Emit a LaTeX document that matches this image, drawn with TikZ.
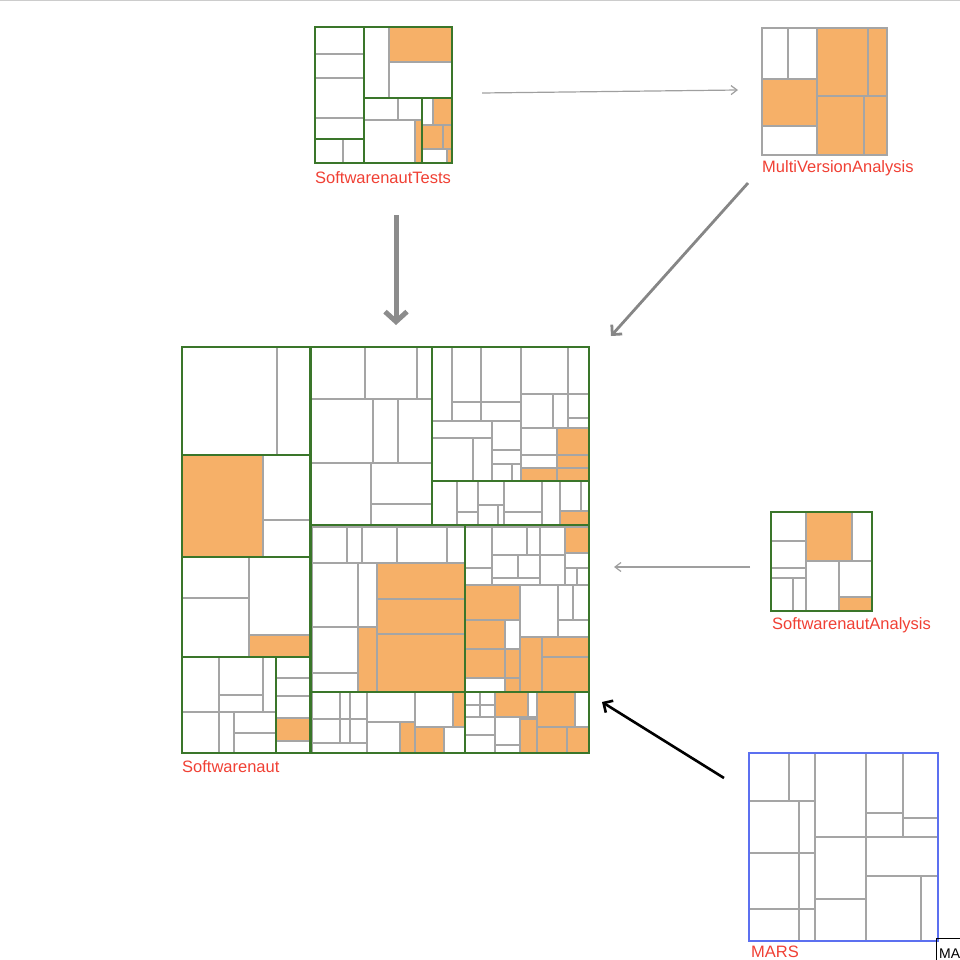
\documentclass[tikz,border=0pt]{standalone}
\usepackage{fontspec}
\setsansfont{Liberation Sans}
\definecolor{hotorange}{RGB}{246,176,104}
\definecolor{grpgreen}{RGB}{58,118,42}
\definecolor{leafgray}{RGB}{165,165,165}
\definecolor{lblred}{RGB}{240,64,52}
\definecolor{marsblue}{RGB}{92,112,240}
\usepackage{tikz}
\usetikzlibrary{arrows.meta,positioning,calc}

\begin{document}
\begin{tikzpicture}[x=1pt, y=-1pt,
    leafbox/.style={draw=leafgray, line width=1.4pt, fill=white},
    hotbox/.style={leafbox, fill=hotorange},
    grpbox/.style={draw=grpgreen, line width=2.7pt},
    lbl/.style={text=lblred, anchor=base west, inner sep=0pt,
        font=\sffamily\fontsize{16.5}{18}\selectfont},
    dep/.style={gray}]
    \useasboundingbox (0,0) rectangle (960,960);
    \clip (0,0) rectangle (960,960);
    \draw[gray!40, line width=1pt] (0,1) -- (960,1);

    % SoftwarenautTests
    \foreach \a/\b/\c/\d in {315/27/364/54, 315/54/364/78, 315/78/364/118,
        315/118/364/139, 315/139/343/163, 343/139/364/163, 364/27/389/98,
        389/62/452/98, 364/98/398/120, 398/98/422/120, 364/120/415/163,
        422/98/433/125, 422/149/447/163}
        \draw[leafbox] (\a,\b) rectangle (\c,\d);
    \foreach \a/\b/\c/\d in {389/27/452/62, 415/120/422/163, 433/98/452/125,
        422/125/443/149, 443/125/452/149, 447/149/452/163}
        \draw[hotbox] (\a,\b) rectangle (\c,\d);
    \foreach \a/\b/\c/\d in {315/27/364/139, 315/139/364/163, 364/27/452/98,
        364/98/422/163, 422/98/452/163, 315/27/452/163}
        \draw[grpbox] (\a,\b) rectangle (\c,\d);
    \node[lbl] (testslbl) at (315,183) {SoftwarenautTests};

    % MultiVersionAnalysis
    \foreach \a/\b/\c/\d in {762/28/788/79, 788/28/817/79, 762/126/817/155}
        \draw[leafbox] (\a,\b) rectangle (\c,\d);
    \foreach \a/\b/\c/\d in {762/79/817/126, 817/28/868/96, 868/28/887/96,
        817/96/864/155, 864/96/887/155}
        \draw[hotbox] (\a,\b) rectangle (\c,\d);
    \draw[leafbox, fill=none, line width=1.8pt] (762,28) rectangle (887,155);
    \node[lbl] (mvalbl) at (762,172) {MultiVersionAnalysis};

    % SoftwarenautAnalysis
    \foreach \a/\b/\c/\d in {771/512/806/541, 771/541/806/568, 771/568/806/578,
        771/578/793/611, 793/578/806/611, 852/512/872/561, 806/561/839/611,
        839/561/872/597}
        \draw[leafbox] (\a,\b) rectangle (\c,\d);
    \foreach \a/\b/\c/\d in {806/512/852/561, 839/597/872/611}
        \draw[hotbox] (\a,\b) rectangle (\c,\d);
    \draw[grpbox] (771,512) rectangle (872,611);
    \node[lbl] (analysislbl) at (772,629) {SoftwarenautAnalysis};

    % MARS
    \foreach \a/\b/\c/\d in {749/753/789/801, 789/753/815/801, 749/801/799/853,
        799/801/815/853, 749/853/799/909, 799/853/815/909, 749/909/799/941,
        799/909/815/941, 815/753/866/837, 815/837/866/899, 815/899/866/941,
        866/753/903/813, 866/813/903/837, 903/753/938/818, 903/818/938/837,
        866/837/938/876, 866/876/921/941, 921/876/938/941}
        \draw[leafbox] (\a,\b) rectangle (\c,\d);
    \draw[marsblue, line width=2.6pt] (749,753) rectangle (938,941);
    \node[lbl] (marslbl) at (751,957) {MARS};
    \node[draw=black, line width=1pt, anchor=north west, minimum width=40pt,
        minimum height=30pt] (mabox) at (936,938) {};
    \node[anchor=base west, inner sep=0pt, font=\sffamily\fontsize{14}{16}\selectfont]
        (malbl) at (939,958) {MA};

    % Softwarenaut
    \foreach \a/\b/\c/\d in {182/347/277/455, 277/347/310/455,
        263/455/310/520, 263/520/310/557,
        182/557/249/598, 182/598/249/657, 249/557/310/635,
        182/657/219/712, 219/657/263/695, 219/695/263/712, 263/657/276/712,
        182/712/219/753, 219/712/234/753, 234/712/276/733, 234/733/276/753,
        276/657/310/678, 276/678/310/696, 276/696/310/718, 276/741/310/753,
        311/347/365/399, 365/347/417/399, 417/347/432/399,
        311/399/373/463, 373/399/398/463, 398/399/432/463,
        311/463/371/525, 371/463/432/504, 371/504/432/525,
        432/347/452/421, 452/347/481/402, 481/347/521/402, 452/402/481/421,
        481/402/521/421, 432/421/492/438, 432/438/473/481, 473/438/492/481,
        492/421/521/450, 492/450/521/464, 492/464/512/481, 512/464/521/481,
        521/347/568/394, 568/347/589/394, 521/394/553/428, 553/394/568/428,
        568/394/589/418, 568/418/589/428, 521/428/557/455, 521/455/557/468,
        432/481/457/525, 457/481/478/512, 457/512/478/525, 478/481/504/505,
        478/505/498/525, 498/505/504/525, 504/481/542/512, 504/512/542/525,
        542/481/560/525, 560/481/581/511, 581/481/589/511,
        312/527/347/563, 347/527/362/563, 362/527/397/563, 397/527/447/563,
        447/527/465/563, 312/563/358/627, 312/627/358/673, 312/673/358/692,
        358/563/377/627,
        465/527/492/568, 465/568/492/585, 492/527/527/555, 527/527/540/555,
        540/527/565/555, 492/555/518/578, 518/555/540/578, 540/555/565/585,
        492/578/540/585, 565/553/589/568, 565/568/577/585, 577/568/589/585,
        520/585/558/637, 558/585/573/620, 573/585/589/620, 558/620/589/637,
        505/620/520/649, 465/678/505/692,
        312/692/340/719, 340/692/350/719, 350/692/367/719, 312/719/340/743,
        340/719/350/743, 350/719/367/743, 312/743/367/753, 367/692/415/722,
        415/692/453/727, 367/722/400/753, 444/727/465/753,
        465/692/480/705, 480/692/495/705, 465/705/480/717, 480/705/495/717,
        465/717/495/735, 465/735/495/753, 528/692/537/717, 575/692/589/727,
        495/717/520/745, 495/745/520/753}
        \draw[leafbox] (\a,\b) rectangle (\c,\d);
    \foreach \a/\b/\c/\d in {182/455/263/557, 249/635/310/657, 276/718/310/741,
        521/468/557/481, 557/428/589/455, 557/455/589/468, 557/468/589/481,
        560/511/589/525,
        358/627/377/692, 377/563/465/599, 377/599/465/634, 377/634/465/692,
        565/527/589/553, 465/585/520/620, 465/620/505/649, 465/649/505/678,
        505/649/520/678, 505/678/520/692, 520/637/542/692, 542/637/589/657,
        542/657/589/692,
        453/692/465/727, 400/722/415/753, 415/727/444/753,
        495/692/528/717, 537/692/575/727, 520/719/537/753, 537/727/567/753,
        567/727/589/753}
        \draw[hotbox] (\a,\b) rectangle (\c,\d);
    \foreach \a/\b/\c/\d in {182/347/310/455, 182/455/310/557, 182/557/310/657,
        182/657/310/753, 276/657/310/753, 311/347/432/525, 432/347/589/481,
        432/481/589/525, 311/525/465/692, 465/525/589/692, 311/692/465/753,
        465/692/589/753, 182/347/589/753}
        \draw[grpbox] (\a,\b) rectangle (\c,\d);
    \node[lbl] (mainlbl) at (182,772) {Softwarenaut};

    % dependency arrows
    \coordinate (testsout) at (482,93);
    \coordinate (mvain) at (738,90);
    \coordinate (testsdown) at (396,215);
    \coordinate (maintop) at (396,325);
    \coordinate (mvaout) at (748,183);
    \coordinate (maincorner) at (611,336);
    \coordinate (analysisout) at (750,567);
    \coordinate (mainright) at (614,567);
    \coordinate (marsout) at (724,778);
    \coordinate (mainlow) at (602,702);
    \draw[dep, gray!75, line width=1.2pt,
        -{Straight Barb[length=6pt, width=9pt]}] (testsout) -- (mvain);
    \draw[dep, gray!90, line width=5pt,
        -{Straight Barb[length=10pt, width=22pt]}] (testsdown) -- (maintop);
    \draw[dep, gray!95, line width=2.8pt,
        -{Straight Barb[length=7pt, width=14pt]}] (mvaout) -- (maincorner);
    \draw[dep, gray!75, line width=1.2pt,
        -{Straight Barb[length=6pt, width=9pt]}] (analysisout) -- (mainright);
    \draw[black, line width=2.6pt,
        -{Straight Barb[length=7pt, width=14pt]}] (marsout) -- (mainlow);
\end{tikzpicture}
\end{document}
